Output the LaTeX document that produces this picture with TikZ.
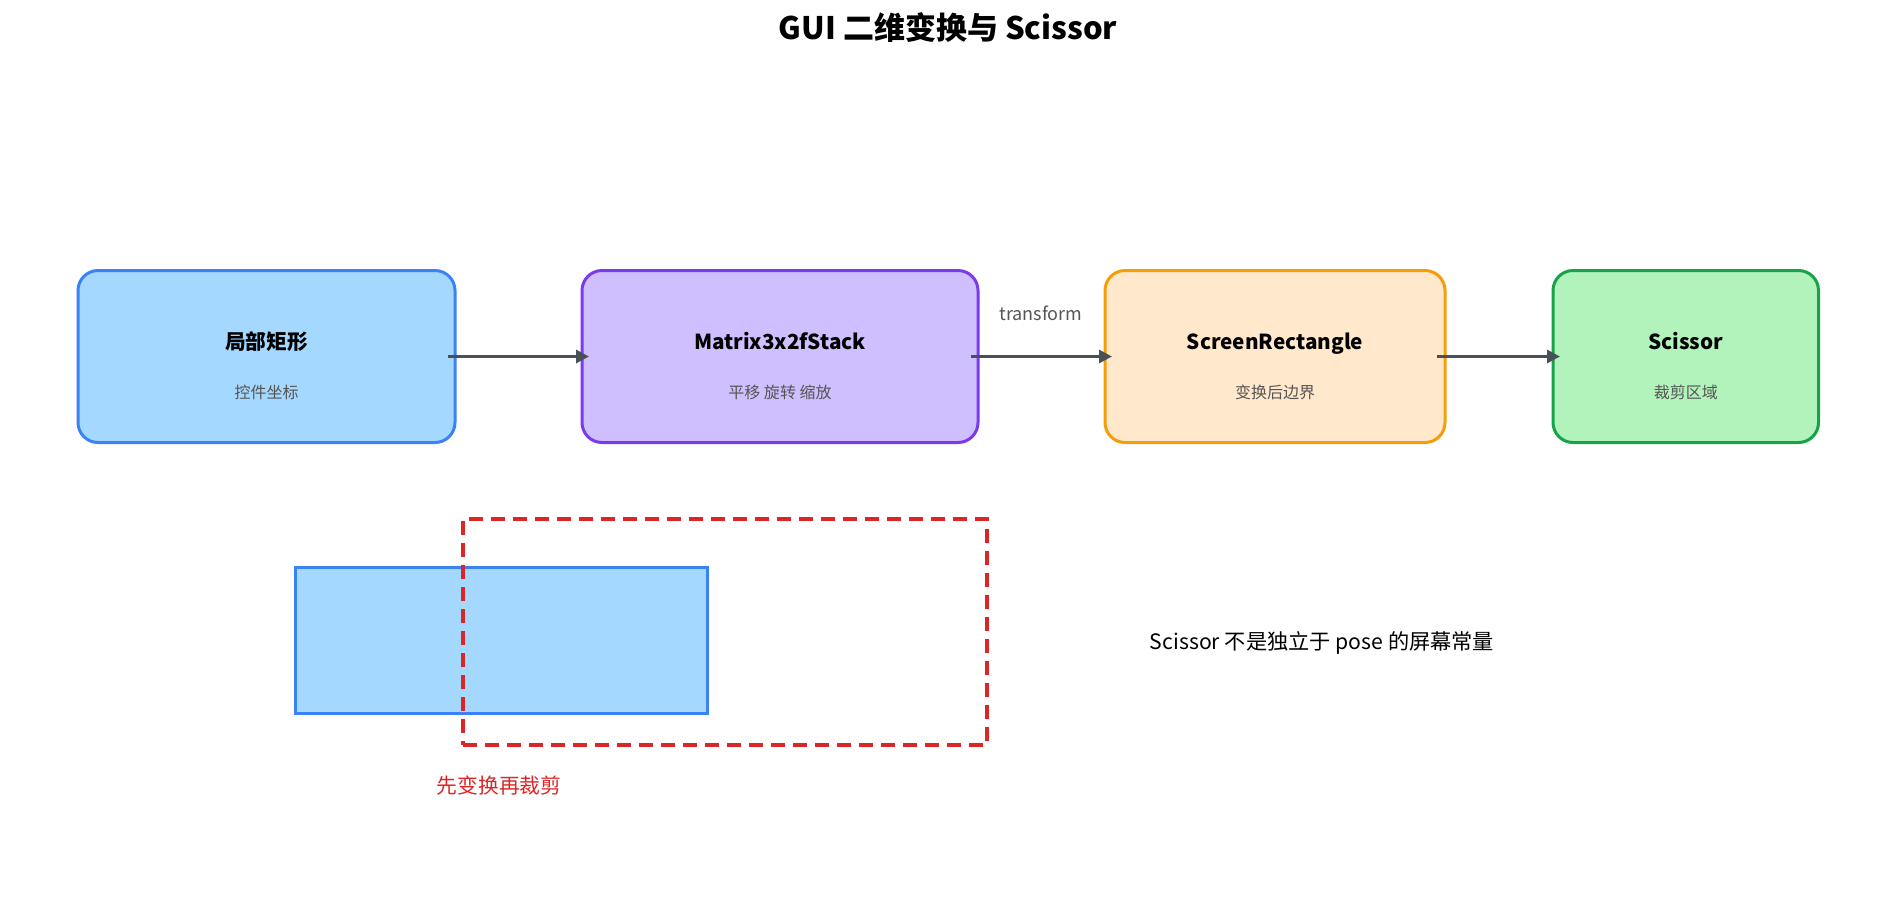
\documentclass[tikz,border=0pt]{standalone}
\usepackage{fontspec}
\setmainfont{Noto Sans CJK SC}
\usetikzlibrary{arrows.meta}
\definecolor{blueB}{HTML}{3B82F6}
\definecolor{blueF}{HTML}{A5D8FF}
\definecolor{purB}{HTML}{7C3AED}
\definecolor{purF}{HTML}{D0BFFF}
\definecolor{orgB}{HTML}{F59E0B}
\definecolor{orgF}{HTML}{FFE8CC}
\definecolor{grnB}{HTML}{16A34A}
\definecolor{grnF}{HTML}{B2F2BB}
\definecolor{arrC}{HTML}{495057}
\definecolor{redC}{HTML}{DC2626}
\definecolor{subC}{HTML}{555555}
\tikzset{
  box/.style={draw, line width=3pt, rounded corners=20pt, minimum height=172pt, inner sep=0pt, outer sep=0pt},
  plain/.style={inner sep=0pt, outer sep=0pt},
  ttl/.style={plain, font=\fontsize{20.7}{24}\selectfont\bfseries, text=black, text height=18.2pt, text depth=2.5pt},
  sub/.style={plain, font=\fontsize{16}{19}\selectfont, text=subC, text height=14.1pt, text depth=1.9pt},
  arr/.style={draw=arrC, line width=3pt, -{Triangle[length=13pt,width=13pt]}}
}
\begin{document}
\begin{tikzpicture}[x=1pt,y=-1pt]
\useasboundingbox[fill=white] (0,0) rectangle (1896,906);
% title
\node[plain, font=\fontsize{31}{36}\selectfont\bfseries, text height=27.3pt, text depth=3.7pt] (title) at (948,28) {GUI 二维变换与 Scissor};
% boxes
\node[box, draw=blueB, fill=blueF, minimum width=377pt] (b1) at (266.5,356.5) {};
\node[box, draw=purB, fill=purF, minimum width=396pt] (b2) at (780,356.5) {};
\node[box, draw=orgB, fill=orgF, minimum width=340pt] (b3) at (1275,356.5) {};
\node[box, draw=grnB, fill=grnF, minimum width=265.5pt] (b4) at (1685.75,356.5) {};
\node[ttl] (t1) at (266.5,342) {局部矩形};
\node[sub] (s1) at (266.5,392) {控件坐标};
\node[ttl] (t2) at (780,342) {Matrix3x2fStack};
\node[sub] (s2) at (780,392) {平移 旋转 缩放};
\node[ttl] (t3) at (1275,342) {ScreenRectangle};
\node[sub] (s3) at (1275,392) {变换后边界};
\node[ttl] (t4) at (1685.75,342) {Scissor};
\node[sub] (s4) at (1685.75,392) {裁剪区域};
% arrows
\draw[arr] ([xshift=-7pt]b1.east) -- ([xshift=7pt]b2.west);
\draw[arr] ([xshift=-7pt]b2.east) -- ([xshift=7pt]b3.west);
\draw[arr] ([xshift=-8pt]b3.east) -- ([xshift=7pt]b4.west);
\node[plain, font=\fontsize{18}{21}\selectfont, text=subC, text height=15.8pt, text depth=2.2pt] (lt) at (1041,314) {transform};
% bottom illustration
\node[plain, draw=blueB, fill=blueF, line width=3pt, minimum width=412pt, minimum height=146pt] (rc) at (501,640) {};
\node[plain, draw=redC, line width=3.5pt, dash pattern=on 14pt off 8pt, minimum width=524pt, minimum height=226pt] (cl) at (725,632) {};
\node[plain, font=\fontsize{20.8}{24}\selectfont, text=redC, text height=18.3pt, text depth=2.5pt] (lc) at (499,786) {先变换再裁剪};
\node[plain, font=\fontsize{21.2}{25}\selectfont, text=black, text height=18.7pt, text depth=2.5pt] (note) at (1322,641) {Scissor 不是独立于 pose 的屏幕常量};
\end{tikzpicture}
\end{document}
